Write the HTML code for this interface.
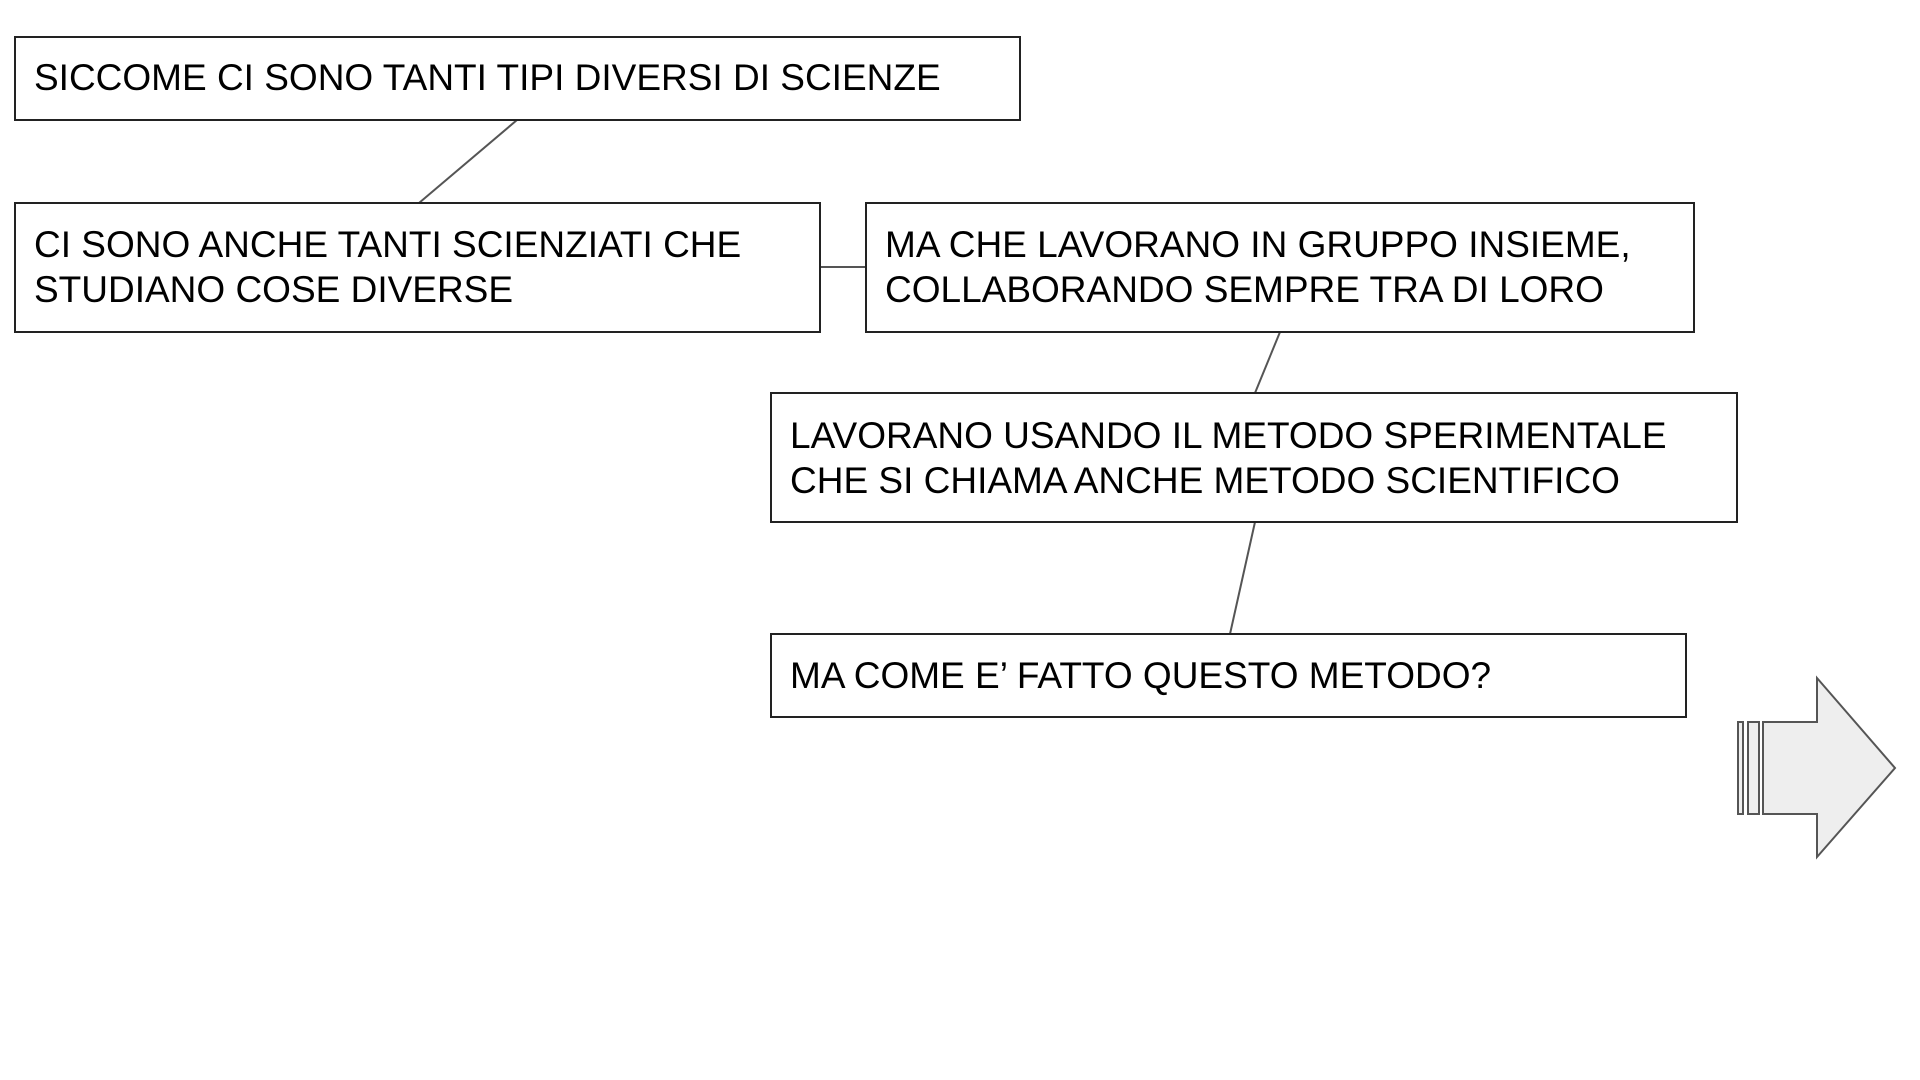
<!DOCTYPE html>
<html><head><meta charset="utf-8"><style>
html,body{margin:0;padding:0;background:#fff;}
svg{display:block;}
text{font-family:"Liberation Sans",Arial,sans-serif;font-size:37px;fill:#000;}
</style></head><body>
<svg width="1920" height="1080" viewBox="0 0 1920 1080" xmlns="http://www.w3.org/2000/svg">
<g stroke="#555" stroke-width="2" fill="none">
<line x1="517" y1="120" x2="419" y2="203"/>
<line x1="820" y1="267" x2="866" y2="267"/>
<line x1="1280" y1="332" x2="1255" y2="393"/>
<line x1="1255" y1="522" x2="1230" y2="634"/>
</g>
<g stroke="#222" stroke-width="2" fill="#fff">
<rect x="15" y="37" width="1005" height="83"/>
<rect x="15" y="203" width="805" height="129"/>
<rect x="866" y="203" width="828" height="129"/>
<rect x="771" y="393" width="966" height="129"/>
<rect x="771" y="634" width="915" height="83"/>
</g>
<text x="34" y="90">SICCOME CI SONO TANTI TIPI DIVERSI DI SCIENZE</text>
<text x="34" y="257">CI SONO ANCHE TANTI SCIENZIATI CHE</text>
<text x="34" y="302">STUDIANO COSE DIVERSE</text>
<text x="885" y="257">MA CHE LAVORANO IN GRUPPO INSIEME,</text>
<text x="885" y="302">COLLABORANDO SEMPRE TRA DI LORO</text>
<text x="790" y="448">LAVORANO USANDO IL METODO SPERIMENTALE</text>
<text x="790" y="493">CHE SI CHIAMA ANCHE METODO SCIENTIFICO</text>
<text x="790" y="688">MA COME E’ FATTO QUESTO METODO?</text>
<g stroke="#555" stroke-width="2" fill="#eee">
<rect x="1738" y="722" width="5" height="92"/>
<rect x="1748" y="722" width="11" height="92"/>
<polygon points="1763,722 1817,722 1817,678 1895,768 1817,857 1817,814 1763,814"/>
</g>
</svg>
</body></html>
